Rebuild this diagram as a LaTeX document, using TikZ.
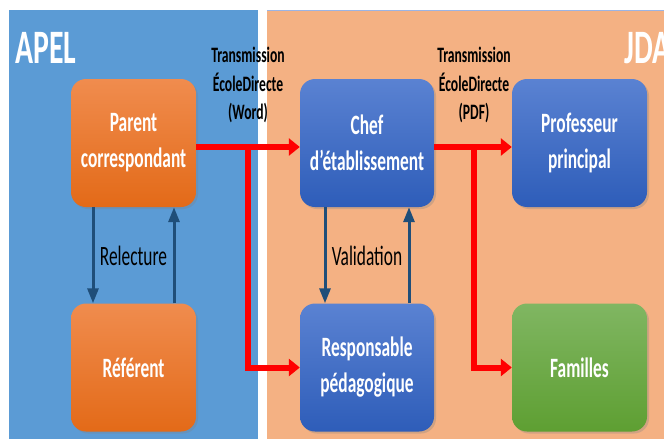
\documentclass[tikz,border=0pt]{standalone}
\usepackage{fontspec}
\setmainfont{Carlito}[FakeStretch=0.62]
\usetikzlibrary{arrows.meta,shadows}
\definecolor{apelbg}{HTML}{5B9BD5}
\definecolor{jdabg}{HTML}{F4B183}
\definecolor{orgtop}{HTML}{F08C4E}
\definecolor{orgbot}{HTML}{E36A18}
\definecolor{blutop}{HTML}{5A82D2}
\definecolor{blubot}{HTML}{2E5DB9}
\definecolor{grntop}{HTML}{80B662}
\definecolor{grnbot}{HTML}{5E9F32}
\definecolor{darkarr}{HTML}{1F4E79}
\definecolor{redarr}{HTML}{FF0000}
\begin{document}
\begin{tikzpicture}[x=1pt,y=-1pt,
  box/.style={rounded corners=15pt,minimum height=128pt,inner sep=0pt,align=center,
    text=white,font=\bfseries\fontsize{28}{36}\selectfont,
    drop shadow={shadow xshift=2pt,shadow yshift=-2pt,opacity=0.3}},
  orgbox/.style={box,minimum width=125pt,top color=orgtop,bottom color=orgbot},
  blubox/.style={box,minimum width=134pt,top color=blutop,bottom color=blubot},
  grnbox/.style={box,minimum width=135pt,top color=grntop,bottom color=grnbot},
  redline/.style={draw=redarr,line width=6pt},
  redarrow/.style={redline,-{Triangle[length=11pt,width=17pt]}},
  bluearrow/.style={draw=darkarr,line width=3pt,-{Triangle[length=15pt,width=11pt]}},
  transl/.style={align=center,inner sep=0pt,anchor=north,font=\bfseries\fontsize{22}{28.5}\selectfont},
  arrlabel/.style={inner sep=0pt,font=\fontsize{28}{34}\selectfont},
  paneltitle/.style={inner sep=0pt,anchor=base west,text=white,font=\bfseries\fontsize{48}{56}\selectfont}]
\useasboundingbox (0,0) rectangle (664,439);
\clip (0,0) rectangle (664,439);
\fill[white] (0,0) rectangle (664,439);
% panels
\fill[apelbg] (9,10) rectangle (258,445);
\fill[jdabg] (267,10) rectangle (680,445);
\draw[color=blutop!60,line width=0.8pt] (267,10) -- (680,10);
\node[paneltitle] (apel) at (15,63) {APEL};
\node[paneltitle] (jda) at (624,63) {JDA};
% boxes
\node[orgbox] (parent) at (133.5,143) {Parent\\correspondant};
\node[orgbox] (referent) at (133.5,367.5) {Référent};
\node[blubox] (chef) at (367,143) {Chef\\d’établissement};
\node[blubox] (resp) at (367,367.5) {Responsable\\pédagogique};
\node[blubox,minimum width=135pt] (prof) at (579.5,143) {Professeur\\principal};
\node[grnbox] (fam) at (579.5,367.5) {Familles};
% red transmissions
\coordinate (r1) at (248,147);
\coordinate (r2) at (474,147);
\coordinate (b1) at (248,367.5);
\coordinate (b2) at (474,367.5);
\draw[redarrow] (parent.east |- r1) -- (chef.west |- r1);
\draw[redline] (r1) -- (b1);
\draw[redarrow] ([xshift=-3pt]b1) -- (resp.west |- b1);
\draw[redarrow] (chef.east |- r2) -- (prof.west |- r2);
\draw[redline] (r2) -- (b2);
\draw[redarrow] ([xshift=-3pt]b2) -- (fam.west |- b2);
% blue arrows
\draw[bluearrow] ([xshift=-40.5pt]parent.south) -- ([xshift=-40.5pt]referent.north);
\draw[bluearrow] ([xshift=40.5pt]referent.north) -- ([xshift=40.5pt]parent.south);
\draw[bluearrow] ([xshift=-42pt]chef.south) -- ([xshift=-42pt]resp.north);
\draw[bluearrow] ([xshift=42pt]resp.north) -- ([xshift=42pt]chef.south);
% labels
\node[transl] (t1) at (248,47) {Transmission\\ÉcoleDirecte\\(Word)};
\node[transl] (t2) at (474,47) {Transmission\\ÉcoleDirecte\\(PDF)};
\node[arrlabel] (relec) at (133.5,256) {Relecture};
\node[arrlabel] (valid) at (367,256) {Validation};
\end{tikzpicture}
\end{document}
